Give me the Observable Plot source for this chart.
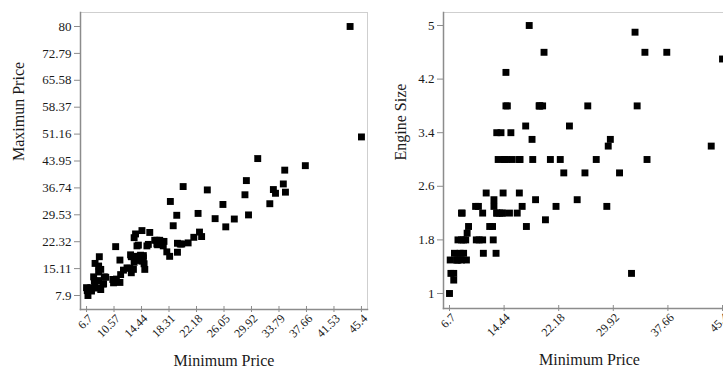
<!DOCTYPE html>
<html>
<head>
<meta charset="utf-8">
<script src="https://cdn.jsdelivr.net/npm/d3@7"></script>
<script src="https://cdn.jsdelivr.net/npm/@observablehq/plot@0.6"></script>
<style>
  html, body { margin: 0; padding: 0; background: #fff; }
  #wrap { width: 723px; height: 369px; overflow: hidden; display: flex; }
  #wrap > svg, #wrap > figure { flex-shrink: 0; margin: 0; }
</style>
</head>
<body>
<div id="wrap"></div>
<script>
// Cars93: Minimum Price, Maximum Price, Engine Size
const minPrice = [12.9,29.2,25.9,30.8,23.7,14.2,19.9,22.6,26.3,33.0,37.5,8.5,11.4,13.4,13.4,14.7,14.7,18.0,34.6,18.4,14.5,29.5,7.9,8.4,11.9,13.6,14.8,18.5,7.9,17.5,6.9,8.4,10.4,10.8,12.8,14.5,15.6,20.1,6.7,11.5,17.0,8.4,13.8,6.8,9.0,9.1,12.4,45.4,27.5,34.7,33.3,34.4,7.4,10.9,14.3,16.6,32.5,29.0,43.8,13.3,14.9,7.7,22.4,8.7,13.0,16.7,21.0,13.0,14.2,19.5,19.5,11.4,8.2,9.4,14.0,15.4,19.4,20.3,9.2,7.3,10.5,16.3,7.3,7.8,13.4,15.2,18.9,8.7,16.6,17.6,22.9,21.8,24.8];
const maxPrice = [18.8,38.7,32.3,44.6,36.2,17.3,21.7,24.9,26.3,36.3,42.7,18.3,11.4,16.8,18.4,18.0,18.6,19.6,41.5,18.4,17.1,29.5,10.6,14.2,14.7,24.4,16.4,33.1,16.5,21.2,7.9,11.9,12.2,21.0,15.2,25.3,24.8,21.7,10.0,13.5,22.7,15.8,21.2,9.2,11.0,11.0,15.3,50.4,28.4,35.6,35.3,37.8,9.1,12.3,18.7,21.7,32.5,34.9,80.0,14.9,14.9,12.9,29.9,14.9,18.3,21.5,22.0,14.0,18.4,19.5,21.9,17.4,9.9,12.8,21.4,21.6,29.4,37.1,12.9,9.5,11.3,22.7,10.0,11.8,23.4,21.2,26.6,9.5,22.7,22.4,23.7,23.5,28.5];
const engineSize = [1.8,3.2,2.8,2.8,3.5,2.2,3.8,5.7,3.8,4.9,4.6,2.2,2.2,3.4,2.2,3.8,4.3,5.0,5.7,3.3,3.0,3.3,1.5,2.2,2.5,3.0,3.0,3.0,1.8,3.5,1.3,1.8,2.3,2.3,2.0,3.0,3.0,4.6,1.0,1.6,2.3,1.5,2.2,1.5,1.8,1.5,2.0,4.5,3.0,3.0,3.8,4.6,1.6,1.8,2.5,3.0,1.3,2.3,3.2,1.6,3.8,1.5,3.0,1.6,2.4,3.0,3.0,2.3,2.2,3.8,3.8,1.8,1.6,2.0,3.4,3.4,3.8,2.1,1.9,1.2,1.8,2.2,1.3,1.5,2.2,2.2,2.4,1.8,2.5,2.0,2.8,2.3,2.4];

// tick labels
const leftXTicks = [6.7,10.57,14.44,18.31,22.18,26.05,29.92,33.79,37.66,41.53,45.4];
const leftYTicks = [7.9,15.11,22.32,29.53,36.74,43.95,51.16,58.37,65.58,72.79,80];
const rightXTicks = [6.7,14.44,22.18,29.92,37.66,45.4];
const rightYTicks = [1,1.8,2.6,3.4,4.2,5];

const xTitle = "Minimum Price";
const leftYTitle = "Maximun Price";
const rightYTitle = "Engine Size";

const cars = minPrice.map((m, i) => ({min: m, max: maxPrice[i], engine: engineSize[i]}));

const FONT = "'Liberation Serif', 'Times New Roman', serif";
const AXIS = "#8c8c8c";
const TEXT = "#1a1a1a";

function panel({width, marginLeft, marginRight, marginBottom, xDomain, yDomain, xTicks, yTicks, yField, yTitle, yTitleDx, clip}) {
  return Plot.plot({
    width, height: 369,
    marginLeft, marginRight, marginTop: 12, marginBottom,
    style: {fontFamily: FONT, background: "#fff", overflow: "visible"},
    x: {domain: xDomain},
    y: {domain: yDomain},
    marks: [
      Plot.frame({stroke: "#cfcfcf"}),
      Plot.dot(cars, {x: "min", y: yField, symbol: "square", r: 3.9, fill: "#000", clip}),
      Plot.frame({anchor: "left", stroke: AXIS, strokeWidth: 1.5}),
      Plot.frame({anchor: "bottom", stroke: AXIS, strokeWidth: 1.5}),
      Plot.axisY({ticks: yTicks, tickSize: 6, tickPadding: 3, stroke: AXIS, fill: TEXT, fontSize: 13, tickFormat: d => String(d), label: null}),
      Plot.axisX({ticks: xTicks, tickSize: 6, dy: -3, stroke: AXIS, fill: "none", label: null}),
      Plot.axisX({ticks: xTicks, tickSize: 0, tickPadding: 7, dx: 4, tickRotate: -45, fill: TEXT, fontSize: 12, tickFormat: d => String(d), label: null}),
      Plot.text([xTitle], {frameAnchor: "bottom", dy: 56, fontSize: 16, fill: TEXT, lineAnchor: "bottom"}),
      Plot.text([yTitle], {frameAnchor: "left", rotate: -90, dx: yTitleDx, fontSize: 16, fill: TEXT})
    ]
  });
}

const wrap = document.getElementById("wrap");
wrap.append(panel({
  width: 400, marginLeft: 80, marginRight: 33, marginBottom: 60,
  xDomain: [5.85, 46.25], yDomain: [4.15, 83.75],
  xTicks: leftXTicks, yTicks: leftYTicks, yField: "max",
  yTitle: leftYTitle, yTitleDx: -62, clip: false
}));
wrap.append(panel({
  width: 340, marginLeft: 43, marginRight: 5, marginBottom: 61,
  xDomain: [5.85, 47.24], yDomain: [0.776, 5.194],
  xTicks: rightXTicks, yTicks: rightYTicks, yField: "engine",
  yTitle: rightYTitle, yTitleDx: -43, clip: true
}));
</script>
</body>
</html>
